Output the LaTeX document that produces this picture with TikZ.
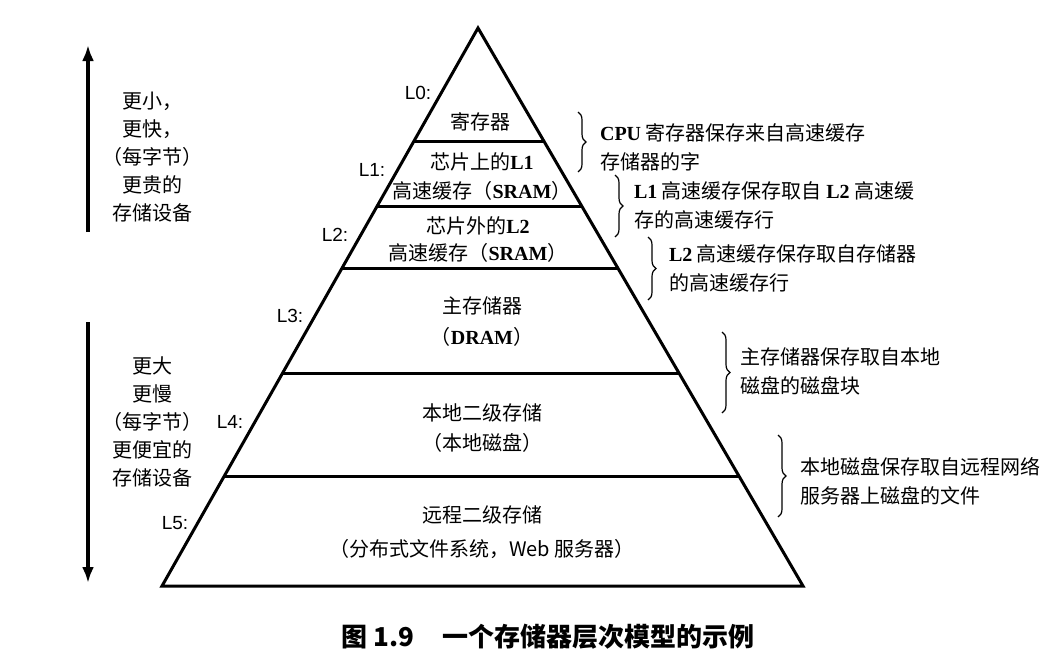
\documentclass[tikz,border=0pt]{standalone}
\usepackage{fontspec}
\setmainfont{Noto Sans CJK SC}
\newfontfamily\lsans{Liberation Sans}
\newfontfamily\lserif{Liberation Serif}
\newcommand\lat[1]{{\lserif\bfseries #1}}
\usetikzlibrary{calc,arrows.meta,decorations.pathreplacing}

\begin{document}
\begin{tikzpicture}[x=0.5pt,y=-0.5pt,
		schicht/.style={align=center,font=\fontsize{10}{14.5}\selectfont},
		ebene/.style={font=\lsans\fontsize{9.5}{11}\selectfont},
		notiz/.style={anchor=west,align=left,font=\fontsize{10}{14.5}\selectfont},
		klammer/.style={decorate,decoration={brace,amplitude=4pt},line width=0.6pt},
		pfeil/.style={line width=1.6pt,-{Latex[length=8pt,width=6pt]}}]
		\useasboundingbox (0,0) rectangle (1063,670);
		%Pyramide
		\coordinate (top) at (478,28);
		\coordinate (bl) at (162,586);
		\coordinate (br) at (803,586);
		\draw[line width=1.5pt,line join=miter] (top) -- (bl) -- (br) -- cycle;
		\foreach \y in {141,206,268,373,476}
			\draw[line width=1.5pt] ($(top)!{(\y-28)/558}!(bl)$) -- ($(top)!{(\y-28)/558}!(br)$);
		%Schichten
		\node[schicht] (s0) at (480,122) {寄存器};
		\node[schicht] (s1) at (482,177) {芯片上的\lat{L1}\\高速缓存（\lat{SRAM}）};
		\node[schicht] (s2) at (478,240) {芯片外的\lat{L2}\\[-1pt]高速缓存（\lat{SRAM}）};
		\node[schicht] (s3) at (482,322) {主存储器\\[1pt]（\lat{DRAM}）};
		\node[schicht] (s4) at (482,428) {本地二级存储\\[0.5pt]（本地磁盘）};
		\node[schicht] (s5) at (482,532) {远程二级存储\\[2.5pt]（分布式文件系统，Web 服务器）};
		%Ebenen
		\foreach \n/\x/\y in {0/418/93,1/372/170,2/335/235,3/290/316,4/230/422,5/175/523}
			\node[ebene] (L\n) at (\x,\y) {L\n:};
		%Klammern
		\foreach \k/\x/\a/\b in {0/578/112/172,1/615/175/237,2/648/237/300,3/722/332/413,4/778/435/517} {
			\coordinate (k\k a) at (\x,\a);
			\coordinate (k\k b) at (\x,\b);
			\draw[klammer] (k\k a) -- (k\k b);
		}
		\node[notiz] (n0) at (593,147) {\lat{CPU} 寄存器保存来自高速缓存\\存储器的字};
		\node[notiz] (n1) at (627,205) {\lat{L1} 高速缓存保存取自 \lat{L2} 高速缓\\存的高速缓存行};
		\node[notiz] (n2) at (662,268) {\lat{L2} 高速缓存保存取自存储器\\的高速缓存行};
		\node[notiz] (n3) at (733,371) {主存储器保存取自本地\\磁盘的磁盘块};
		\node[notiz] (n4) at (793,481) {本地磁盘保存取自远程网络\\服务器上磁盘的文件};
		%Pfeile
		\coordinate (o1) at (88,232);
		\coordinate (o2) at (88,45);
		\coordinate (u1) at (88,322);
		\coordinate (u2) at (88,583);
		\draw[pfeil] (o1) -- (o2);
		\draw[pfeil] (u1) -- (u2);
		\node[schicht,font=\fontsize{10}{14}\selectfont] (klein) at (152,157) {更小，\\更快，\\（每字节）\\更贵的\\存储设备};
		\node[schicht,font=\fontsize{10}{14}\selectfont] (gross) at (152,422) {更大\\更慢\\（每字节）\\更便宜的\\存储设备};
		%Titel
		\node[font=\bfseries\fontsize{13}{15}\selectfont] (titel) at (548,637) {图 1.9\hspace{14pt}一个存储器层次模型的示例};
	\end{tikzpicture}
\end{document}
